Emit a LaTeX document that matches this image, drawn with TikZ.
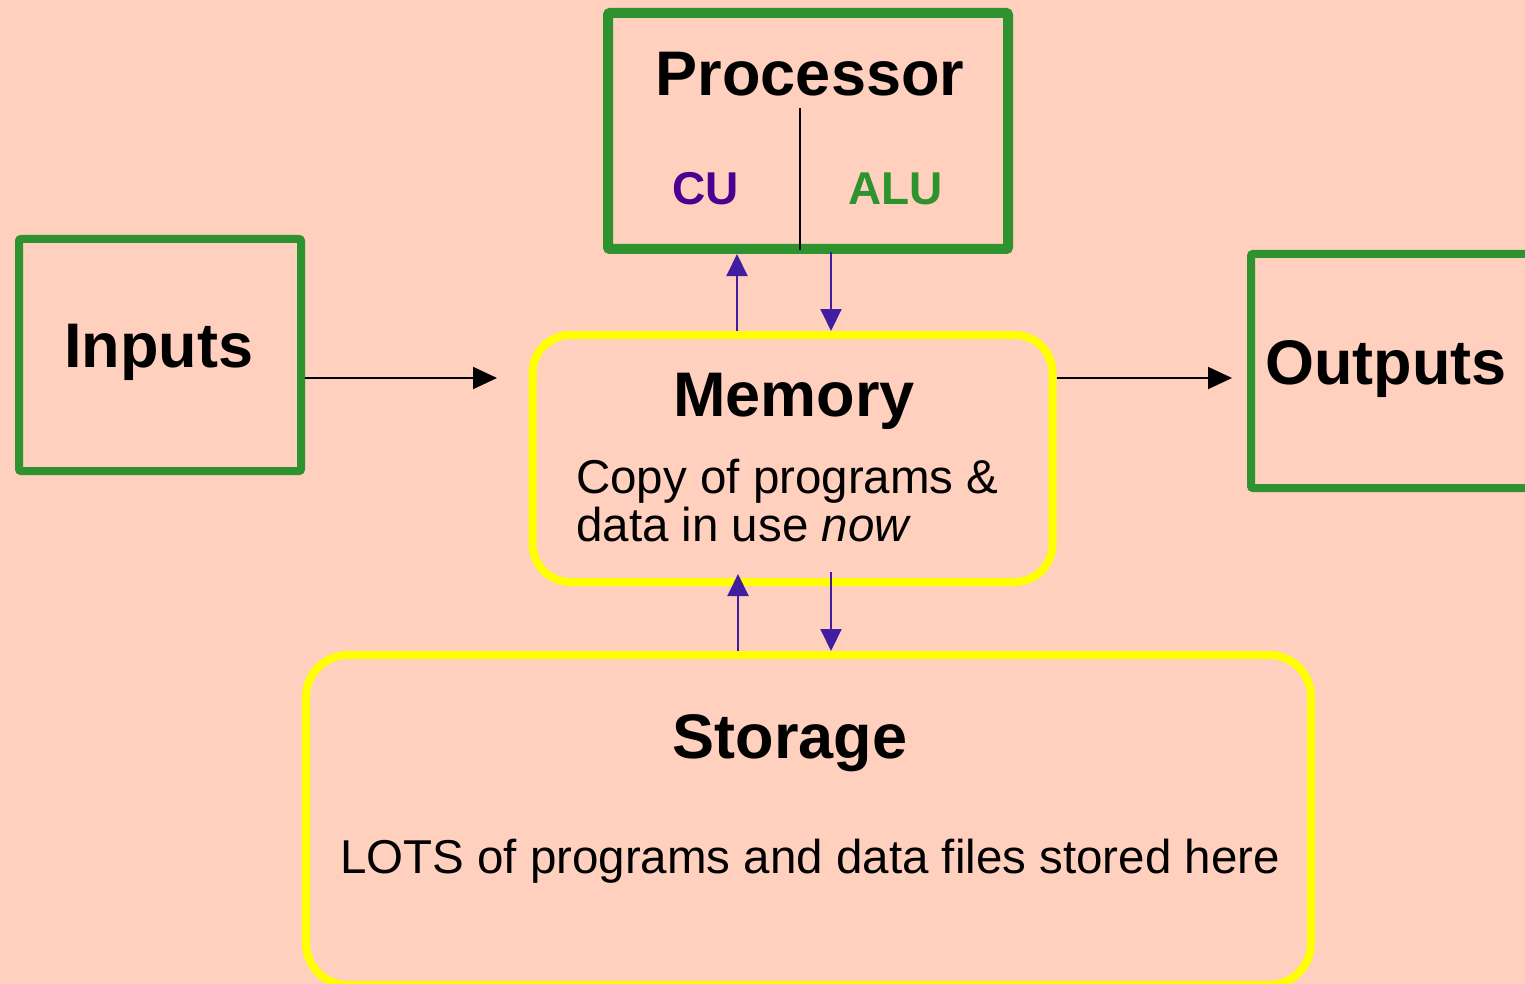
\documentclass[tikz,border=0pt]{standalone}
\usepackage{fontspec}
\setmainfont{Liberation Sans}
\usetikzlibrary{arrows.meta}
\definecolor{bg}{RGB}{255,208,190}
\definecolor{boxgreen}{RGB}{46,146,46}
\definecolor{cupurple}{RGB}{75,0,145}
\definecolor{arrpurple}{RGB}{65,30,160}
\definecolor{memyellow}{RGB}{255,255,0}
\tikzset{
  greenbox/.style={draw=boxgreen, rectangle, inner sep=0pt, line width=8pt, rounded corners=2pt},
  yellowbox/.style={draw=memyellow, rectangle, inner sep=0pt, line width=8pt},
  titletext/.style={font=\fontsize{63}{70}\selectfont\bfseries, inner sep=0pt},
  bodytext/.style={font=\fontsize{47.5}{52}\selectfont, inner sep=0pt},
  subtext/.style={font=\fontsize{46}{50}\selectfont\bfseries, inner sep=0pt},
  blackarrow/.style={draw=black, line width=2pt, -{Triangle[length=24pt,width=22pt]}},
  purplearrow/.style={draw=arrpurple, line width=2pt, -{Triangle[length=22pt,width=21pt]}}
}
\begin{document}
\begin{tikzpicture}[x=1pt,y=-1pt]
\useasboundingbox (0,0) rectangle (1525,984);
\fill[bg] (0,0) rectangle (1525,984);
\begin{scope}
\clip (0,0) rectangle (1525,984);
% boxes
\node[greenbox, line width=10pt, minimum width=400pt, minimum height=236pt] (proc) at (808,131) {};
\node[greenbox, minimum width=282pt, minimum height=232pt] (inputs) at (160,355) {};
\node[greenbox, minimum width=300pt, minimum height=234pt] (outputs) at (1401,371) {};
\node[yellowbox, rounded corners=38pt, minimum width=520pt, minimum height=247pt] (mem) at (792.5,458.5) {};
\node[yellowbox, rounded corners=42pt, minimum width=1005pt, minimum height=330pt] (stor) at (808.5,820) {};
% divider in processor
\draw[line width=2pt] (800,108) -- (800,250);
% texts
\node[titletext, anchor=base] (proct) at (810,96) {Processor};
\node[subtext, anchor=base west, text=cupurple] (cut) at (672,205) {CU};
\node[subtext, anchor=base west, text=boxgreen] (alut) at (848,205) {ALU};
\node[titletext, anchor=base west] (inputst) at (64,367) {Inputs};
\node[titletext, anchor=base] (memt) at (794,416) {Memory};
\node[bodytext, anchor=base west] (memb1) at (576,493) {Copy of programs \&};
\node[bodytext, anchor=base west] (memb2) at (576,541) {data in use \textit{now}};
\node[titletext, anchor=base west] (outputst) at (1265,384) {Outputs};
\node[titletext, anchor=base] (stort) at (790,758) {Storage};
\node[bodytext, anchor=base] (storb) at (810,873) {LOTS of programs and data files stored here};
% connectors
\coordinate (inA) at (497,378);
\coordinate (outA) at (1232,378);
\draw[blackarrow] (inputs.east |- inA) -- (inA);
\draw[blackarrow] (mem.east |- outA) -- (outA);
\coordinate (u1) at (737,254);
\coordinate (d1) at (831,252);
\draw[purplearrow] (mem.north -| u1) -- (u1);
\draw[purplearrow] (d1) -- (mem.north -| d1);
\coordinate (u2) at (738,574);
\coordinate (d2) at (831,572);
\draw[purplearrow] (stor.north -| u2) -- (u2);
\draw[purplearrow] (d2) -- (stor.north -| d2);
\end{scope}
\end{tikzpicture}
\end{document}
